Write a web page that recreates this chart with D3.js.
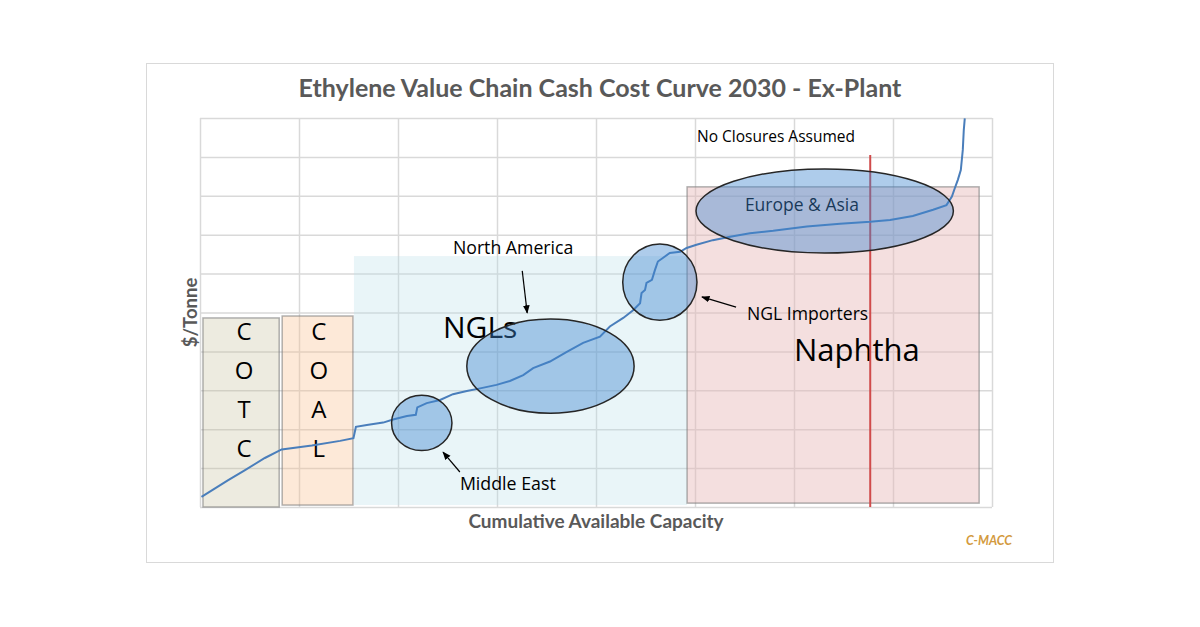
<!DOCTYPE html>
<html>
<head>
<meta charset="utf-8">
<script src="https://cdn.jsdelivr.net/npm/d3@7"></script>
<style>
  body { margin: 0; background: #fff; }
  svg { display: block; }
</style>
</head>
<body>
<svg id="chart"></svg>
<script>
// cumulative capacity (Mt) and cash cost ($/t)
var capacity = [0.3, 5.7, 9.1, 13.1, 16.5, 22.6, 28.3, 31.0, 31.5, 33.7, 37.0, 39.0, 41.8, 43.6, 43.9, 45.8,
  48.5, 51.1, 53.9, 56.6, 59.9, 62.6, 65.3, 67.3, 70.7, 74.1, 77.4, 80.8, 82.8, 85.5, 87.5, 88.9, 89.2,
  89.9, 90.2, 91.3, 91.9, 92.5, 93.5, 94.9, 97.0, 98.3, 100.3, 103.6, 107.1, 111.1, 115.8, 122.6, 129.3,
  135.4, 139.4, 144.0, 148.1, 150.8, 151.9, 152.5, 153.1, 153.7, 154.1, 154.3, 154.5];
var cost = [26, 69, 95, 126, 148, 158, 170, 177, 206, 211, 217, 225, 234, 237, 256, 267,
  275, 290, 298, 305, 314, 324, 339, 357, 374, 399, 422, 438, 464, 486, 506, 524, 550,
  558, 576, 584, 609, 631, 640, 653, 656, 666, 674, 686, 695, 704, 710, 721, 728,
  733, 738, 748, 764, 776, 798, 820, 841, 866, 918, 969, 999];

var xTicks = [0, 20, 40, 60, 80, 100, 120, 140, 160];
var yTicks = [0, 100, 200, 300, 400, 500, 600, 700, 800, 900, 1000];

// feedstock regions: capacity span and cost height
var regionNames = ["COTC", "COAL", "NGLs", "Naphtha"];
var regionStart = [0.6, 16.6, 31.1, 98.4];
var regionEnd = [16.0, 30.9, 98.4, 157.4];
var regionTop = [486, 491, 645, 823];
var regionBase = [0, 5, 5, 10];

// producer groups highlighted with ellipses: centre and half-spans
var groupNames = ["Middle East", "North America", "NGL Importers", "Europe & Asia"];
var groupCap = [44.8, 70.8, 92.9, 126.2];
var groupCost = [216, 362, 578, 761];
var groupCapSpan = [6.1, 16.9, 7.5, 26.0];
var groupCostSpan = [71, 121, 98, 108];

var closureCap = 135.4, closureTop = 905;

var W = 1200, H = 627;
var margin = {left: 200, top: 118, right: 208, bottom: 120};
var width = W - margin.left - margin.right,
    height = H - margin.top - margin.bottom;

var svg = d3.select("#chart").attr("width", W).attr("height", H);
var font = "'Open Sans', sans-serif";
var boldFont = "Lato, 'Open Sans', sans-serif";

svg.append("rect")
  .attr("x", 146.5).attr("y", 63.5)
  .attr("width", 907).attr("height", 499)
  .attr("fill", "#fff").attr("stroke", "#d9d9d9");

var x = d3.scaleLinear().domain([0, 160]).range([0, width]);
var y = d3.scaleLinear().domain([0, 1000]).range([height, 0]);

var g = svg.append("g").attr("transform", "translate(" + margin.left + "," + margin.top + ")");

// grid
g.append("g")
  .call(d3.axisBottom(x).tickValues(xTicks).tickSize(-height).tickFormat(""))
  .attr("transform", "translate(0," + height + ")")
  .call(function(s) { s.select(".domain").remove(); })
  .selectAll("line").attr("stroke", "#d9d9d9").attr("stroke-width", 1.5);
g.append("g")
  .call(d3.axisLeft(y).tickValues(yTicks).tickSize(-width).tickFormat(""))
  .call(function(s) { s.select(".domain").remove(); })
  .selectAll("line").attr("stroke", "#d9d9d9").attr("stroke-width", 1.5);

var regionFill = {COTC: "#c4bd97", COAL: "#fac090", NGLs: "#b7dee8", Naphtha: "#e6b9b8"};
var regionOpacity = {COTC: 0.3, COAL: 0.35, NGLs: 0.3, Naphtha: 0.45};

g.selectAll(".region")
  .data(regionNames)
  .enter().append("rect")
  .attr("class", "region")
  .attr("x", function(d, i) { return x(regionStart[i]); })
  .attr("width", function(d, i) { return x(regionEnd[i]) - x(regionStart[i]); })
  .attr("y", function(d, i) { return y(regionTop[i]); })
  .attr("height", function(d, i) { return y(regionBase[i]) - y(regionTop[i]); })
  .attr("fill", function(d) { return regionFill[d]; })
  .attr("fill-opacity", function(d) { return regionOpacity[d]; })
  .attr("stroke", function(d) { return d === "NGLs" ? "none" : "#7f7f7f"; })
  .attr("stroke-opacity", 0.6)
  .attr("stroke-width", 1.5);

// vertical letters in the two narrow boxes
var letterRows = [429, 329, 229, 129];
[["COTC", 8.9], ["COAL", 24.0]].forEach(function(r) {
  r[0].split("").forEach(function(ch, i) {
    g.append("text")
      .attr("x", x(r[1])).attr("y", y(letterRows[i]))
      .attr("text-anchor", "middle")
      .style("font-family", font).style("font-size", "24px")
      .attr("fill", "#000")
      .text(ch);
  });
});

// labels that sit under the ellipses
function label(txt, cx, cy, size, anchor) {
  return g.append("text")
    .attr("x", x(cx)).attr("y", y(cy))
    .attr("text-anchor", anchor || "start")
    .style("font-family", font).style("font-size", size + "px")
    .attr("fill", "#000")
    .text(txt);
}
label("NGLs", 49.1, 434, 30);
label("Naphtha", 120.0, 375, 31);
label("Europe & Asia", 121.6, 761, 17.5, "middle");
label("No Closures Assumed", 100.4, 938, 15.5);
label("North America", 51.1, 650, 17.7);
label("NGL Importers", 110.5, 481, 17.6);
label("Middle East", 52.5, 44, 17.8);

// red line
g.append("line")
  .attr("x1", x(closureCap)).attr("x2", x(closureCap))
  .attr("y1", y(closureTop)).attr("y2", y(0))
  .attr("stroke", "#d04b4b").attr("stroke-width", 2);

// cost curve
g.append("clipPath").attr("id", "plotclip")
  .append("rect").attr("width", width).attr("height", height);
var line = d3.line()
  .x(function(d, i) { return x(capacity[i]); })
  .y(function(d) { return y(d); });
g.append("path")
  .datum(cost)
  .attr("clip-path", "url(#plotclip)")
  .attr("d", line)
  .attr("fill", "none")
  .attr("stroke", "#4a7ebb")
  .attr("stroke-width", 2);

// ellipses
g.selectAll(".group")
  .data(groupNames)
  .enter().append("ellipse")
  .attr("class", "group")
  .attr("cx", function(d, i) { return x(groupCap[i]); })
  .attr("cy", function(d, i) { return y(groupCost[i]); })
  .attr("rx", function(d, i) { return x(groupCapSpan[i]) - x(0); })
  .attr("ry", function(d, i) { return y(0) - y(groupCostSpan[i]); })
  .attr("fill", "#3f86d0").attr("fill-opacity", 0.42)
  .attr("stroke", "#262626").attr("stroke-width", 1.5);

// arrows
svg.append("defs").append("marker")
  .attr("id", "arrow").attr("viewBox", "0 0 10 10")
  .attr("refX", 9).attr("refY", 5)
  .attr("markerWidth", 7).attr("markerHeight", 7)
  .attr("orient", "auto")
  .append("path").attr("d", "M0,1 L10,5 L0,9 Z").attr("fill", "#000");

var arrowFrom = [[65.1, 607], [52.5, 90], [108.3, 514]];
var arrowTo = [[66.1, 499], [49.1, 141], [101.4, 540]];
arrowFrom.forEach(function(p, i) {
  g.append("line")
    .attr("x1", x(p[0])).attr("y1", y(p[1]))
    .attr("x2", x(arrowTo[i][0])).attr("y2", y(arrowTo[i][1]))
    .attr("stroke", "#000").attr("stroke-width", 1.2)
    .attr("marker-end", "url(#arrow)");
});

// titles
svg.append("text")
  .attr("x", 600).attr("y", 97)
  .attr("text-anchor", "middle")
  .style("font-family", boldFont).style("font-size", "25px").style("font-weight", "bold")
  .attr("fill", "#595959")
  .text("Ethylene Value Chain Cash Cost Curve 2030 - Ex-Plant");

svg.append("text")
  .attr("x", margin.left + width / 2).attr("y", 528)
  .attr("text-anchor", "middle")
  .style("font-family", boldFont).style("font-size", "19px").style("font-weight", "bold")
  .attr("fill", "#595959")
  .text("Cumulative Available Capacity");

svg.append("text")
  .attr("transform", "translate(197," + (margin.top + height / 2) + ") rotate(-90)")
  .attr("text-anchor", "middle")
  .style("font-family", boldFont).style("font-size", "18.5px").style("font-weight", "bold")
  .attr("fill", "#595959")
  .text("$/Tonne");

svg.append("text")
  .attr("x", 1012).attr("y", 545)
  .attr("text-anchor", "end")
  .style("font-family", boldFont).style("font-size", "12.5px")
  .style("font-weight", "bold").style("font-style", "italic")
  .attr("fill", "#d39a3e")
  .text("C-MACC");
</script>
</body>
</html>
